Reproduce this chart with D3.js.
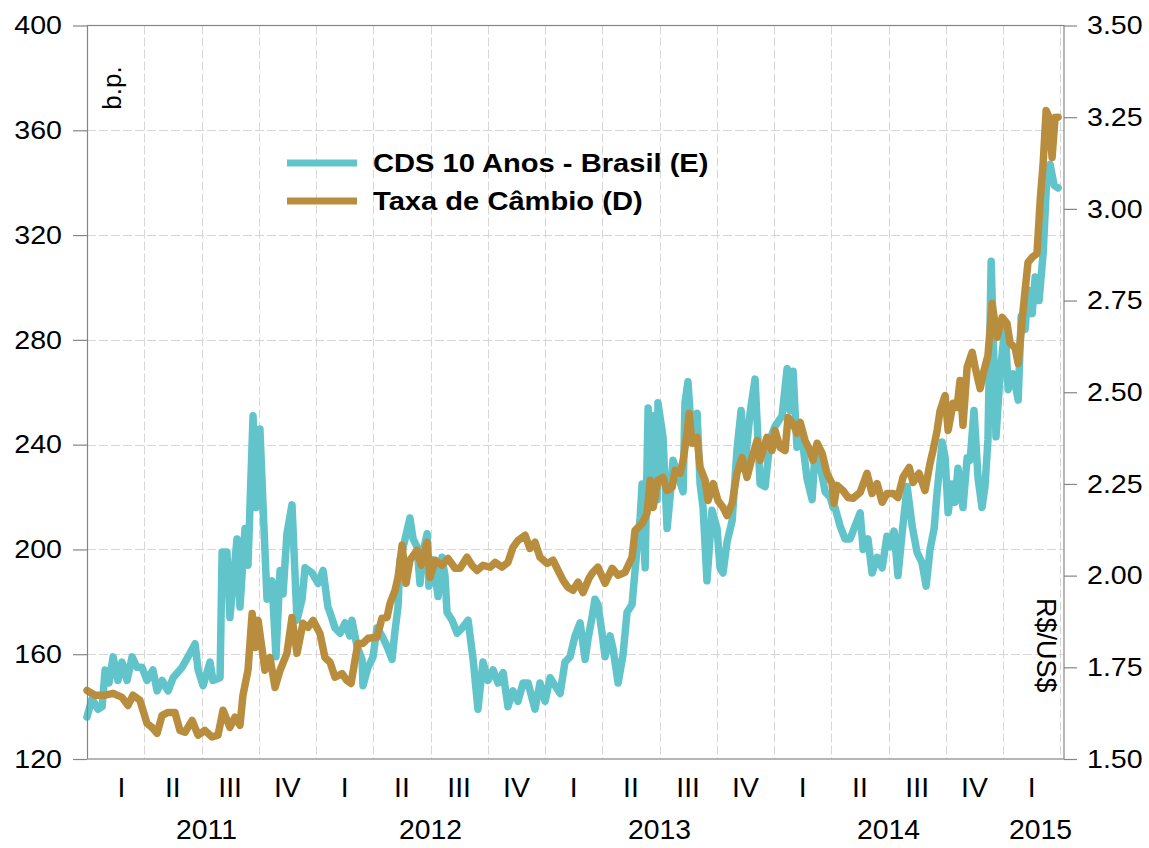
<!DOCTYPE html>
<html>
<head>
<meta charset="utf-8">
<script src="https://cdn.jsdelivr.net/npm/d3@7"></script>
<style>
  body { margin: 0; background: #fff; }
  svg text { font-family: "Liberation Sans", Arial, sans-serif; fill: #000; }
</style>
</head>
<body>
<div id="chart"></div>
<script>
// time as decimal years, CDS in b.p. (left axis), FX in R$/US$ (right axis)
const cdsT = [2011.000,2011.022,2011.048,2011.066,2011.079,2011.096,2011.114,2011.135,2011.153,2011.175,2011.197,2011.218,2011.240,2011.262,2011.288,2011.306,2011.328,2011.354,2011.376,2011.415,2011.441,2011.472,2011.485,2011.507,2011.537,2011.550,2011.581,2011.590,2011.611,2011.624,2011.655,2011.668,2011.690,2011.703,2011.725,2011.738,2011.755,2011.769,2011.786,2011.808,2011.825,2011.843,2011.856,2011.873,2011.895,2011.917,2011.939,2011.952,2011.983,
  2012.009,2012.031,2012.052,2012.061,2012.083,2012.105,2012.127,2012.148,2012.157,2012.179,2012.201,2012.205,2012.227,2012.249,2012.266,2012.288,2012.310,2012.332,2012.345,2012.358,2012.367,2012.389,2012.410,2012.424,2012.441,2012.454,2012.467,2012.485,2012.493,2012.511,2012.533,2012.550,2012.563,2012.572,2012.594,2012.616,2012.638,2012.664,2012.686,2012.707,2012.729,2012.751,2012.773,2012.795,2012.817,2012.838,2012.860,2012.882,2012.904,2012.926,2012.956,2012.978,
  2013.000,2013.022,2013.044,2013.066,2013.087,2013.109,2013.131,2013.153,2013.175,2013.188,2013.205,2013.218,2013.231,2013.249,2013.262,2013.284,2013.297,2013.319,2013.341,2013.358,2013.380,2013.393,2013.415,2013.424,2013.437,2013.450,2013.467,2013.472,2013.489,2013.493,2013.515,2013.533,2013.546,2013.559,2013.581,2013.603,2013.611,2013.624,2013.642,2013.664,2013.677,2013.690,2013.707,2013.729,2013.751,2013.764,2013.777,2013.795,2013.817,2013.838,2013.856,2013.873,2013.895,2013.917,2013.939,2013.961,2013.983,
  2014.004,2014.035,2014.057,2014.070,2014.083,2014.100,2014.122,2014.144,2014.166,2014.179,2014.201,2014.223,2014.245,2014.258,2014.266,2014.288,2014.310,2014.332,2014.354,2014.376,2014.389,2014.410,2014.428,2014.450,2014.472,2014.493,2014.507,2014.524,2014.541,2014.559,2014.581,2014.603,2014.624,2014.646,2014.664,2014.681,2014.699,2014.712,2014.734,2014.747,2014.760,2014.777,2014.790,2014.803,2014.825,2014.843,2014.856,2014.873,2014.891,2014.908,2014.921,2014.934,2014.948,2014.969,2014.987,
  2015.009,2015.022,2015.044,2015.066,2015.079,2015.096,2015.109,2015.127,2015.140,2015.157,2015.175,2015.192,2015.205,2015.223,2015.240];
const cdsBp = [136,143,139,140,154,149,159,150,157,150,159,155,155,150,154,146,150,146,151,155,159,164,154,148,157,150,151,199,199,174,204,178,208,194,251,216,246,216,181,188,159,192,183,206,217,173,181,193,191,
  187,192,178,176,170,168,172,167,173,163,158,148,155,159,170,167,163,158,169,178,196,204,212,204,201,187,199,206,186,196,182,197,190,176,173,168,170,173,158,139,157,150,154,149,153,140,146,142,149,149,139,149,
  142,151,148,145,157,159,167,172,158,166,174,181,179,168,159,167,162,149,160,176,179,192,212,225,193,254,225,251,219,256,243,208,220,234,228,222,256,264,241,252,225,216,188,215,208,193,191,203,211,238,253,232,252,265,225,224,242,
  247,251,269,253,268,239,243,227,219,237,232,222,220,216,216,209,204,204,209,214,200,204,191,197,193,205,201,207,190,206,224,209,199,195,186,200,208,222,241,235,214,225,218,231,216,235,234,253,227,216,224,242,310,243,267,
  286,261,267,257,289,284,299,290,304,295,313,344,347,339,338];

const fxT = [2011.000,2011.035,2011.079,2011.114,2011.153,2011.179,2011.201,2011.231,2011.262,2011.284,2011.306,2011.328,2011.354,2011.384,2011.406,2011.428,2011.459,2011.485,2011.515,2011.546,2011.572,2011.594,2011.624,2011.646,2011.668,2011.681,2011.703,2011.721,2011.734,2011.747,2011.777,2011.799,2011.821,2011.843,2011.873,2011.895,2011.917,2011.943,2011.965,2011.987,
  2012.017,2012.039,2012.061,2012.083,2012.114,2012.135,2012.153,2012.170,2012.183,2012.205,2012.227,2012.266,2012.288,2012.310,2012.323,2012.345,2012.358,2012.376,2012.393,2012.410,2012.441,2012.459,2012.485,2012.498,2012.520,2012.550,2012.576,2012.607,2012.629,2012.659,2012.681,2012.703,2012.729,2012.760,2012.782,2012.812,2012.838,2012.860,2012.882,2012.913,2012.934,2012.956,2012.978,
  2013.009,2013.035,2013.057,2013.079,2013.100,2013.122,2013.144,2013.166,2013.192,2013.205,2013.231,2013.262,2013.293,2013.319,2013.349,2013.380,2013.393,2013.424,2013.445,2013.459,2013.472,2013.493,2013.515,2013.533,2013.555,2013.568,2013.590,2013.603,2013.620,2013.629,2013.642,2013.664,2013.677,2013.699,2013.712,2013.734,2013.755,2013.777,2013.795,2013.817,2013.838,2013.860,2013.882,2013.904,2013.926,2013.939,2013.969,2013.991,
  2014.004,2014.026,2014.048,2014.061,2014.083,2014.100,2014.114,2014.135,2014.157,2014.170,2014.188,2014.210,2014.231,2014.253,2014.262,2014.275,2014.301,2014.323,2014.345,2014.376,2014.406,2014.428,2014.450,2014.472,2014.493,2014.520,2014.541,2014.563,2014.590,2014.607,2014.633,2014.659,2014.681,2014.694,2014.712,2014.725,2014.747,2014.760,2014.782,2014.799,2014.812,2014.825,2014.843,2014.865,2014.878,2014.900,2014.917,2014.934,2014.952,2014.974,2014.996,
  2015.017,2015.031,2015.052,2015.066,2015.083,2015.096,2015.109,2015.127,2015.148,2015.162,2015.175,2015.188,2015.201,2015.214,2015.227,2015.240];
const fxRate = [1.687,1.674,1.674,1.679,1.668,1.646,1.674,1.660,1.597,1.586,1.570,1.619,1.627,1.627,1.578,1.573,1.605,1.565,1.578,1.560,1.565,1.633,1.586,1.614,1.592,1.674,1.742,1.897,1.804,1.878,1.742,1.777,1.695,1.742,1.788,1.886,1.788,1.870,1.859,1.878,
  1.843,1.777,1.764,1.723,1.733,1.714,1.706,1.769,1.815,1.815,1.829,1.832,1.884,1.886,1.924,1.960,1.995,2.083,1.979,2.042,2.069,2.028,2.091,1.995,2.042,2.028,2.047,2.020,2.020,2.050,2.028,2.014,2.028,2.023,2.036,2.023,2.036,2.077,2.096,2.110,2.074,2.091,2.050,
  2.033,2.042,2.014,1.987,1.968,1.960,1.982,1.954,1.993,2.006,2.023,1.979,2.020,2.001,2.009,2.050,2.123,2.142,2.170,2.260,2.186,2.260,2.268,2.232,2.241,2.287,2.279,2.314,2.388,2.442,2.361,2.377,2.295,2.260,2.205,2.251,2.205,2.186,2.164,2.197,2.279,2.322,2.268,2.322,2.369,2.314,2.377,2.341,
  2.396,2.350,2.341,2.431,2.415,2.388,2.418,2.369,2.341,2.314,2.361,2.333,2.279,2.251,2.197,2.246,2.232,2.213,2.211,2.227,2.279,2.224,2.251,2.200,2.224,2.224,2.213,2.268,2.295,2.254,2.279,2.232,2.306,2.341,2.396,2.450,2.491,2.396,2.470,2.459,2.532,2.410,2.568,2.609,2.568,2.510,2.560,2.600,2.742,2.650,2.704,
  2.688,2.633,2.622,2.578,2.696,2.778,2.854,2.868,2.878,3.023,3.124,3.268,3.249,3.140,3.249,3.250];

const leftTicks = [120, 160, 200, 240, 280, 320, 360, 400];
const rightTicks = [1.50, 1.75, 2.00, 2.25, 2.50, 2.75, 3.00, 3.25, 3.50];
const quarterNames = ['I', 'II', 'III', 'IV'];
const years = [2011, 2012, 2013, 2014, 2015];
const seriesNames = ['CDS 10 Anos - Brasil (E)', 'Taxa de Câmbio (D)'];
const seriesColors = ['#62c4cb', '#b88e3e'];

const W = 1149, H = 848;
const pLeft = 87, pRight = 1064, pTop = 25.5, pBottom = 759;
const tEnd = 2015.266;

const svg = d3.select('#chart').append('svg').attr('width', W).attr('height', H);

const x = d3.scaleLinear().domain([2011, tEnd]).range([pLeft, pRight]);
const yL = d3.scaleLinear().domain([120, 400]).range([pBottom, pTop]);
const yR = d3.scaleLinear().domain([1.5, 3.5]).range([pBottom, pTop]);

// stretch text a little wider, the original is rendered that way
function stretch(sel, k) {
  sel.each(function() {
    const L = this.getComputedTextLength();
    this.setAttribute('textLength', L * k);
    this.setAttribute('lengthAdjust', 'spacingAndGlyphs');
  });
}

// grid
const grid = svg.append('g').attr('stroke', '#d6d6d6').attr('stroke-dasharray', '9,3').attr('stroke-width', 1);
grid.selectAll('line.h').data(leftTicks.slice(1, -1)).enter().append('line')
  .attr('x1', pLeft).attr('x2', pRight)
  .attr('y1', d => Math.round(yL(d)) + 0.5).attr('y2', d => Math.round(yL(d)) + 0.5);
const qBounds = d3.range(2011.25, tEnd, 0.25);
grid.selectAll('line.v').data(qBounds).enter().append('line')
  .attr('y1', pTop).attr('y2', pBottom)
  .attr('x1', d => Math.round(x(d)) + 0.5).attr('x2', d => Math.round(x(d)) + 0.5);

// series
const lineL = d3.line().x(d => x(d[0])).y(d => yL(d[1]));
const lineR = d3.line().x(d => x(d[0])).y(d => yR(d[1]));
svg.append('path').datum(d3.zip(cdsT, cdsBp)).attr('d', lineL)
  .attr('fill', 'none').attr('stroke', seriesColors[0]).attr('stroke-width', 7.5)
  .attr('stroke-linejoin', 'round').attr('stroke-linecap', 'round');
svg.append('path').datum(d3.zip(fxT, fxRate)).attr('d', lineR)
  .attr('fill', 'none').attr('stroke', seriesColors[1]).attr('stroke-width', 7.5)
  .attr('stroke-linejoin', 'round').attr('stroke-linecap', 'round');

// frame
svg.append('rect').attr('x', pLeft + 0.5).attr('y', pTop).attr('width', pRight - pLeft - 0.5).attr('height', pBottom - pTop)
  .attr('fill', 'none').attr('stroke', '#858585').attr('stroke-width', 1.2);

// axes
const axL = svg.append('g').attr('transform', `translate(${pLeft},0)`)
  .call(d3.axisLeft(yL).tickValues(leftTicks).tickSize(14).tickPadding(11).tickFormat(d3.format('d')));
const axR = svg.append('g').attr('transform', `translate(${pRight},0)`)
  .call(d3.axisRight(yR).tickValues(rightTicks).tickSize(13).tickPadding(10).tickFormat(d3.format('.2f')));
[axL, axR].forEach(ax => {
  ax.select('.domain').remove();
  ax.selectAll('line').attr('stroke', '#858585').attr('stroke-width', 1.2);
  ax.selectAll('text').attr('font-size', 26).attr('font-family', '"Liberation Sans", Arial, sans-serif').attr('fill', '#000');
  stretch(ax.selectAll('text'), 1.1);
});

// quarter and year labels (first quarter label sits over the visible part of the data)
const qLabels = [];
years.forEach(yr => quarterNames.forEach((q, i) => {
  const c = yr + 0.125 + i * 0.25;
  if (c < tEnd) qLabels.push({ t: c, label: q });
}));
qLabels[0].t = 2011.15;
const qText = svg.append('g').selectAll('text').data(qLabels).enter().append('text')
  .attr('x', d => x(d.t)).attr('y', 797).attr('text-anchor', 'middle').attr('font-size', 27)
  .text(d => d.label);
stretch(qText, 1.05);
const yText = svg.append('g').selectAll('text').data(years).enter().append('text')
  .attr('x', d => x((d + Math.min(d + 1, tEnd)) / 2) + (d === 2015 ? 7 : d === 2011 ? 5 : 0)).attr('y', 839)
  .attr('text-anchor', 'middle').attr('font-size', 27)
  .text(d => d);
stretch(yText, 1.05);

// unit labels
svg.append('text').attr('transform', 'translate(121,88) rotate(-90)')
  .attr('text-anchor', 'middle').attr('font-size', 26).text('b.p.');
svg.append('text').attr('transform', 'translate(1037,598) rotate(90)')
  .attr('text-anchor', 'start').attr('font-size', 27).text('R$/US$');

// legend
const leg = svg.append('g');
seriesNames.forEach((name, i) => {
  const ly = 163 + i * 38;
  leg.append('line').attr('x1', 287).attr('x2', 357).attr('y1', ly).attr('y2', ly)
    .attr('stroke', seriesColors[i]).attr('stroke-width', 7);
  const t = leg.append('text').attr('x', 373).attr('y', ly + 8.5)
    .attr('font-size', 26).attr('font-weight', 'bold').text(name);
  stretch(t, 1.12);
});
</script>
</body>
</html>
